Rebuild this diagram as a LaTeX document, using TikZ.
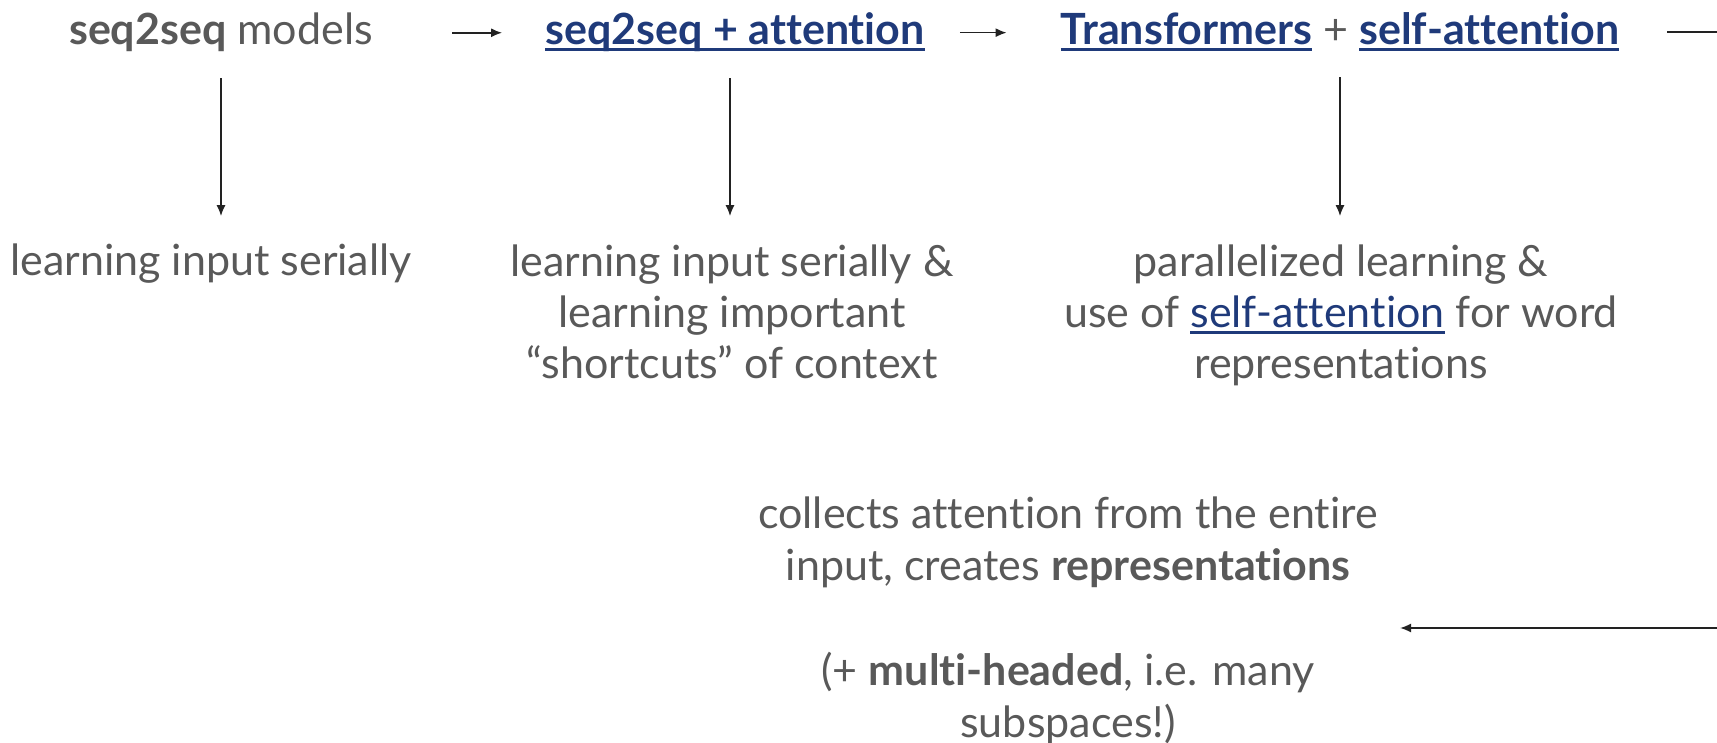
\documentclass[tikz,border=0pt]{standalone}
\usepackage{fontspec}
\setmainfont{Lato}[Ligatures={NoCommon}]
\usetikzlibrary{arrows.meta,positioning}

\definecolor{txtgray}{HTML}{595959}
\definecolor{linkblue}{HTML}{1F3A7A}
\definecolor{arrowdark}{HTML}{222222}
% underlined link text
\newcommand{\lnk}[2][3pt]{{\color{linkblue}\setbox0\hbox{#2}\rlap{\rule[-6pt]{\wd0}{#1}}\box0}}

\begin{document}
\begin{tikzpicture}[
  x=1pt,y=-1pt,
  every node/.style={inner sep=0pt,font=\fontsize{43}{51.5}\selectfont,text=txtgray},
  lbl/.style={align=center,anchor=base},
  flow/.style={-{Latex[length=11pt,width=9pt]},line width=1.5pt,draw=arrowdark}
]
\useasboundingbox (0,0) rectangle (1717,743);
% top row
\node[lbl] (t1) at (221,45) {\textbf{seq2seq} models};
\node[lbl] (t2) at (735,45) {\lnk{\textbf{seq2seq + attention}}};
\node[lbl] (t3) at (1340,45) {\lnk{\textbf{Transformers}} + \lnk{\textbf{self-attention}}};
\draw[flow,shorten <=79pt,shorten >=43pt] (t1.east) -- (t1.east -| t2.west);
\draw[flow,shorten <=35pt,shorten >=54pt] (t2.east) -- (t2.east -| t3.west);
\coordinate (outtop) at (1730,32);
\draw[line width=1.5pt,draw=arrowdark,shorten <=48pt] (t3.east |- outtop) -- (outtop);
% second row (base = last line)
\node[lbl] (r1) at (211,276) {learning input serially};
\node[lbl] (r2) at (732,379) {learning input serially \&\\ learning important\\ “shortcuts” of context};
\node[lbl] (r3) at (1341,379) {parallelized learning \&\\ use of \lnk[2.5pt]{self-attention} for word\\ representations};
\draw[flow,shorten <=26pt,shorten >=28pt] (t1.south) -- (t1.south |- r1.north);
\draw[flow,shorten <=26pt,shorten >=28pt] ([xshift=-5pt]t2.south) -- ([xshift=-5pt]t2.south |- r1.north);
\draw[flow,shorten <=26pt,shorten >=28pt] (t3.south) -- (t3.south |- r1.north);
% bottom
\node[lbl] (b) at (1068,737) {collects attention from the entire\\ input, creates \textbf{representations}\\[54pt] (+ \textbf{multi-headed}, i.e. many\\ subspaces!)};
\coordinate (inbot) at (1730,628);
\draw[flow,shorten >=22pt] (inbot) -- (inbot -| b.east);
\end{tikzpicture}
\end{document}
